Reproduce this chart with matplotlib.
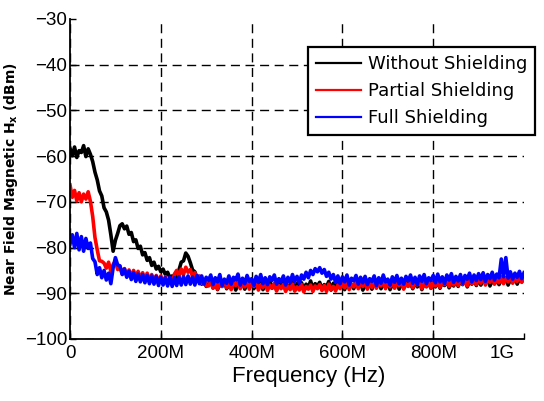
import numpy as np
import matplotlib
matplotlib.use("Agg")
from matplotlib import pyplot as plt
from matplotlib.transforms import ScaledTranslation

# frequency grid in MHz, one reading every 5 MHz
freq = np.arange(0, 1001, 5)

without_shield = [
    -58.3, -59.9, -58.0, -60.3, -58.8, -59.2, -57.7, -60.1, -58.4, -59.6,
    -61.2, -63.5, -65.2, -67.6, -68.7, -71.3, -72.2, -74.0, -77.2, -80.8,
    -78.4, -76.9, -75.2, -74.8, -75.9, -75.3, -77.1, -76.7, -78.7, -78.3,
    -80.2, -79.7, -81.6, -81.1, -82.8, -82.2, -83.9, -83.2, -84.7, -84.1,
    -85.3, -84.7, -85.9, -85.4, -86.6, -86.2, -87.7, -86.3, -84.9, -83.2,
    -82.9, -81.2, -81.9, -83.3, -84.9, -85.3, -86.8, -86.9, -88.0, -87.0,
    -88.5,
    -88.0, -87.1, -88.8, -87.6, -89.2, -87.9, -88.5, -87.3, -89.0, -88.2,
    -88.7, -87.5, -89.3, -88.0, -88.4, -87.4, -89.1, -87.8, -88.6, -87.2,
    -89.0, -88.1, -88.5, -87.6, -89.2, -87.9, -88.7, -87.3, -88.9, -88.0,
    -89.3, -87.8, -88.6, -87.5, -89.1, -88.2, -88.8, -87.4, -89.4, -87.9,
    -88.5, -87.7, -89.2, -88.0, -88.7, -87.3, -89.0, -87.9, -88.4, -87.6,
    -89.1, -88.1, -88.6, -87.4, -89.3, -87.8, -88.9, -87.5, -88.5, -87.9,
    -89.2, -87.6, -88.7, -88.0, -89.0, -87.4, -88.6, -87.7, -89.3, -88.1,
    -88.8, -87.5, -89.1, -87.9, -88.4, -87.3, -89.0, -87.8, -88.7, -87.6,
    -89.2, -88.0, -88.5, -87.4, -89.1, -87.7, -88.8, -87.5, -88.4, -87.9,
    -89.0, -87.6, -88.6, -87.3, -89.2, -87.8, -88.5, -87.4, -88.9, -87.7,
    -88.6, -87.2, -88.9, -87.5, -88.3, -87.1, -88.8, -87.6, -88.4, -87.0,
    -88.5, -87.3, -88.1, -86.9, -88.6, -87.4, -88.0, -87.1, -88.3, -86.8,
    -88.2, -87.0, -87.8, -86.7, -88.4, -87.2, -87.9, -86.8, -88.1, -86.9,
    -87.7, -86.6, -88.2, -87.0, -87.6, -86.5, -88.0, -86.9, -87.5, -86.6,
]

partial_shield = [
    -66.3, -69.0, -67.5, -69.8, -68.0, -70.0, -68.3, -69.4, -67.8, -69.9,
    -73.2, -77.8, -80.5, -82.9, -83.0, -83.4, -84.5, -83.2, -85.2, -83.7,
    -83.0, -84.8, -84.1, -85.8, -84.6, -86.1, -84.9, -86.4, -85.0, -86.5,
    -85.2, -86.8, -85.5, -87.0, -85.6, -87.2, -85.9, -87.3, -86.1, -87.6,
    -86.2, -87.7, -86.4, -88.0, -86.7, -88.1, -85.8, -85.0, -86.3, -84.7,
    -85.9, -84.3, -85.4, -84.8, -86.4, -85.5, -87.2, -86.2, -87.8, -87.0,
    -88.4,
    -88.4, -87.3, -88.9, -87.8, -89.1, -87.6, -88.5, -87.2, -88.8, -87.9,
    -89.2, -87.7, -88.3, -87.4, -89.0, -88.0, -88.6, -87.5, -89.1, -87.8,
    -88.5, -87.6, -89.3, -88.1, -88.7, -87.9, -89.4, -88.2, -88.9, -87.8,
    -89.5, -88.3, -89.0, -88.1, -89.6, -88.4, -89.2, -88.0, -89.5, -88.6,
    -89.3, -88.1, -89.7, -88.5, -89.1, -88.2, -89.6, -88.4, -89.0, -88.1,
    -89.4, -88.3, -89.6, -88.0, -89.2, -88.5, -89.5, -88.2, -89.0, -87.9,
    -88.8, -87.7, -89.2, -88.0, -88.6, -87.5, -89.0, -87.8, -88.5, -87.6,
    -89.1, -87.9, -88.7, -87.4, -88.9, -87.8, -88.4, -87.5, -89.0, -87.7,
    -88.6, -87.3, -88.9, -87.8, -88.3, -87.6, -89.1, -87.9, -88.5, -87.4,
    -88.8, -87.6, -88.2, -87.3, -89.0, -87.7, -88.6, -87.5, -88.9, -87.8,
    -88.4, -87.2, -88.7, -87.6, -88.1, -87.0, -88.5, -87.4, -88.2, -87.1,
    -88.3, -86.9, -88.0, -87.3, -88.4, -86.8, -87.9, -87.2, -88.1, -86.7,
    -87.8, -86.6, -88.2, -87.0, -87.6, -86.5, -88.0, -86.9, -87.7, -86.4,
    -87.9, -86.6, -87.5, -86.3, -87.8, -86.7, -87.4, -86.2, -87.6, -86.5,
]

full_shield = [
    -79.2, -77.2, -80.0, -76.9, -80.5, -77.6, -80.8, -78.0, -80.2, -79.0,
    -82.4, -83.1, -85.9, -84.4, -86.6, -85.0, -87.1, -85.6, -87.9, -84.4,
    -82.2, -83.8, -84.0, -85.9, -84.7, -86.5, -85.2, -87.0, -85.5, -87.4,
    -85.8, -87.5, -85.9, -87.7, -86.1, -87.9, -86.2, -88.0, -86.3, -88.3,
    -86.5, -88.2, -86.6, -88.4, -86.5, -88.5, -86.6, -88.3, -86.4, -88.2,
    -86.3, -88.1, -86.2, -88.0, -86.4, -88.2, -86.1, -87.9, -86.2, -88.0,
    -86.5,
    -87.2, -86.0, -88.1, -86.6, -87.5, -85.9, -88.3, -86.9, -87.8, -86.2,
    -88.0, -86.5, -87.1, -85.8, -88.2, -86.7, -87.9, -86.1, -87.4, -86.8,
    -88.3, -86.3, -87.6, -85.9, -87.9, -86.6, -88.1, -86.4, -87.2, -86.0,
    -88.0, -86.8, -87.5, -86.2, -88.2, -86.5, -87.7, -85.9, -87.4, -86.3,
    -87.8, -86.0, -86.9, -85.4, -86.6, -85.0, -85.9, -84.6, -85.3, -84.4,
    -85.6, -84.8, -86.3, -85.4, -86.9, -85.9, -87.6, -86.2, -87.9, -86.4,
    -87.5, -86.0, -88.2, -86.7, -87.3, -86.1, -88.0, -86.5, -87.7, -86.3,
    -88.1, -86.8, -87.4, -86.2, -88.3, -86.6, -87.8, -86.0, -87.5, -86.9,
    -88.2, -86.4, -87.6, -86.1, -87.9, -86.7, -88.0, -86.3, -87.3, -86.0,
    -87.8, -86.5, -88.1, -86.2, -87.4, -85.9, -87.9, -86.6, -87.2, -86.1,
    -87.7, -85.8, -87.5, -86.4, -87.9, -86.0, -87.1, -85.7, -87.6, -86.3,
    -87.3, -85.9, -87.8, -86.1, -86.9, -85.6, -87.5, -86.0, -87.2, -85.7,
    -87.0, -85.5, -87.4, -85.9, -86.8, -85.4, -87.1, -85.8, -86.6, -82.5,
    -86.4, -82.2, -86.7, -85.3, -86.9, -85.6, -86.5, -85.2, -86.8, -85.5,
]

xtick_vals = [0, 200, 400, 600, 800, 1000]
xtick_labels = ["0", "200M", "400M", "600M", "800M", "1G"]
ytick_vals = [-100, -90, -80, -70, -60, -50, -40, -30]

plt.rcParams['font.family'] = ['Liberation Sans', 'DejaVu Sans']
plt.rcParams['lines.scale_dashes'] = False

fig = plt.figure(figsize=(5.44, 4.01), dpi=100)
ax = fig.add_axes([70/544, 1-339/401, 454/544, 320/401])

ax.plot(freq, without_shield, color="black", lw=2.6, label="Without Shielding")
ax.plot(freq, partial_shield, color="red", lw=2.6, label="Partial Shielding")
ax.plot(freq, full_shield, color="blue", lw=2.6, label="Full Shielding")

ax.set_xlim(0, 1000)
ax.set_ylim(-100, -30)
ax.set_xticks(xtick_vals)
ax.set_xticklabels(xtick_labels)
ax.set_yticks(ytick_vals)
ax.tick_params(direction='in', length=4, width=1, labelsize=13.5, pad=4)
ax.tick_params(axis='y', pad=2)

ax.grid(True, color='black', linestyle=(0, (6.5, 4)), linewidth=1)
ax.xaxis.get_major_ticks()[-1].gridline.set_visible(False)
ax.yaxis.get_major_ticks()[-1].gridline.set_visible(False)
for s in ['top', 'right']:
    ax.spines[s].set_visible(False)
for s in ['left', 'bottom']:
    ax.spines[s].set_linewidth(1.3)

# "1G" label sits left of its tick in the original
lbl = ax.get_xticklabels()[-1]
lbl.set_transform(lbl.get_transform() + ScaledTranslation(-0.22, 0, fig.dpi_scale_trans))

ax.set_xlabel("Frequency (Hz)", fontsize=16)
ax.xaxis.set_label_coords(0.526, -0.085)
ax.set_ylabel(r"Near Field Magnetic H$_{\mathregular{x}}$ (dBm)", fontsize=10,
              fontweight='bold', family='DejaVu Sans')
ax.yaxis.set_label_coords(-0.11, 0.5)

leg = ax.legend(loc='upper left', bbox_to_anchor=(308/544, 1-47/401),
                bbox_transform=fig.transFigure, borderaxespad=0,
                prop={'family': 'DejaVu Sans', 'size': 13}, fancybox=False,
                edgecolor='black', framealpha=1, handlelength=2.5,
                handletextpad=0.35, labelspacing=0.5, borderpad=0.45)
leg.get_frame().set_linewidth(1.6)
for line in leg.get_lines():
    line.set_linewidth(1.6)

fig.savefig("out.png", dpi=100)
